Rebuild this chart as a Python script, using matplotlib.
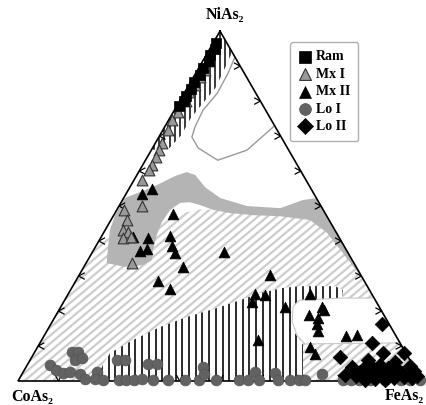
import numpy as np
import matplotlib
matplotlib.use('Agg')
import matplotlib.pyplot as plt
from matplotlib.patches import Polygon
from matplotlib.collections import LineCollection
from matplotlib.font_manager import FontProperties

# ---------------- data (ternary, % NiAs2 and % FeAs2; CoAs2 = rest) -------------
ram_ni = [96.5, 95.0, 93.2, 91.4, 89.5, 87.5, 85.5, 83.5, 81.5, 80.0, 78.5]
ram_fe = [0.8, 1.2, 1.0, 1.5, 1.0, 1.2, 0.8, 1.0, 0.8, 1.2, 0.6]

mx1_ni = [91.5, 89.0, 87.0, 84.5, 82.5, 80.0, 77.0, 74.6, 71.7, 68.0, 66.0, 64.0,
          61.7, 60.3, 57.4, 50.0, 48.9, 46.0, 43.1, 42.6, 40.9, 41.1, 33.7]
mx1_fe = [1.5, 1.8, 1.5, 1.5, 1.2, 1.5, 1.0, 0.8, 1.3, 1.7, 1.9, 2.2,
          2.3, 2.3, 2.0, 5.7, 1.8, 4.0, 4.4, 5.9, 5.6, 7.4, 11.4]

mx2_ni = [53.4, 54.9, 47.7, 41.1, 40.9, 41.4, 37.1, 37.7, 38.6, 36.6, 32.6, 28.6,
          26.3, 36.9, 30.3, 24.9, 24.6, 22.6, 21.1, 24.9, 21.1, 18.9, 18.0, 16.3,
          14.3, 11.7, 9.7, 7.7, 12.9, 13.1, 20.3]
mx2_fe = [4.0, 5.8, 14.5, 7.9, 11.8, 16.9, 11.6, 13.0, 18.8, 20.6, 24.5, 20.4,
          24.5, 32.6, 47.3, 46.3, 48.8, 46.6, 55.5, 59.9, 64.6, 62.6, 65.3, 65.9,
          67.2, 53.5, 67.4, 69.6, 74.8, 77.3, 65.6]

lo1_ni = [4.6, 3.1, 2.3, 8.3, 8.3, 6.0, 6.6, 2.6, 2.0, 0.6, 2.6, 0.6, 0.3, 6.0,
          6.0, 0.3, 0.3, 0.3, 0.6, 4.9, 4.9, 0.3, 0.3, 0.3, 0.3, 4.0, 2.0, 0.3,
          0.3, 0.3, 2.6, 0.3, 2.3, 0.3, 0.3, 0.3, 0.3, 2.0, 0.3, 0.3, 0.3, 0.3,
          0.3, 0.3, 0.3, 0.3]
lo1_fe = [5.6, 7.8, 10.0, 9.2, 10.7, 11.1, 12.5, 11.6, 14.3, 16.3, 18.3, 18.8,
          20.8, 21.5, 23.5, 24.8, 26.7, 28.5, 30.4, 29.7, 32.0, 33.2, 36.9, 41.3,
          44.6, 43.8, 45.0, 48.8, 54.5, 56.7, 57.4, 59.4, 62.5, 64.1, 67.3, 69.3,
          71.0, 74.2, 80.2, 82.2, 84.2, 87.1, 90.8, 94.6, 97.0, 99.4]

lo2_ni = [16.3, 10.9, 8.0, 8.0, 6.9, 4.0, 3.4, 4.0, 4.6, 3.7, 3.1, 4.3, 2.9, 1.4,
          1.4, 1.1, 1.7, 1.4, 0.9, 1.1, 0.9, 2.6, 2.6, 2.6, 2.3, 2.3, 0.6, 0.3,
          0.3, 1.7, 5.4, 6.0]
lo2_fe = [81.9, 82.2, 86.3, 91.5, 76.3, 80.7, 83.7, 85.6, 87.3, 89.7, 92.5, 94.9,
          96.6, 98.0, 83.0, 85.6, 87.8, 90.4, 92.6, 95.0, 97.1, 83.4, 85.8, 88.6,
          91.4, 93.9, 88.1, 90.7, 85.8, 80.1, 90.6, 83.6]

# fields (ternary boundaries, % NiAs2, % FeAs2)
top_hatch_ni = [100, 94.0, 89.4, 83.7, 79.1, 75.1, 70.3, 66.6, 66.0]
top_hatch_fe = [0, 6.0, 6.5, 7.0, 6.0, 5.2, 5.3, 4.2, 0]

loop_ni = [92.6, 88.0, 82.3, 77.4, 72.6, 69.7, 66.6, 63.1, 66.0, 72.9]
loop_fe = [7.4, 8.0, 8.2, 7.1, 7.5, 8.2, 11.3, 17.9, 23.7, 27.0]

gray_ni = [52.3, 54.0, 56.0, 58.6, 59.7, 58.9, 55.4, 52.3, 50.0, 49.4, 51.7, 52.3,
           28.9, 36.6, 42.3, 46.0, 47.1, 47.4, 48.0, 48.9, 50.3, 51.1, 50.9, 48.9,
           45.4, 41.7, 37.4, 34.6, 33.1, 32.6, 33.7, 38.9, 43.1, 47.4]
gray_fe = [0.3, 3.2, 6.4, 9.6, 11.9, 14.4, 18.6, 23.9, 31.7, 40.2, 44.6, 47.7,
           71.1, 62.1, 55.4, 49.3, 41.3, 34.5, 28.5, 23.9, 19.9, 17.0, 14.7, 13.2,
           12.9, 13.5, 14.7, 15.9, 14.3, 10.2, 5.1, 2.9, 1.2, 0.3]

diag_ni = [40, 42, 47, 49, 49, 48, 48, 0, 0]
diag_fe = [0, 5, 14, 20, 30, 40, 52, 100, 0]

vert_ni = [0, 0, 10.3, 13.7, 18.0, 22.3, 23.7, 26.0, 27.1, 27.1, 26.6, 25.1, 23.1,
           20.9, 18.3, 15.4, 11.7, 8.0, 4.6]
vert_fe = [19.3, 70.5, 65.4, 61.7, 58.8, 57.7, 68.3, 67.4, 64.9, 56.2, 52.3, 47.3,
           43.4, 38.9, 32.7, 27.4, 22.6, 18.8, 18.7]

white_ni = [21.4, 23.1, 23.7, 23.7, 10.9, 10.6, 12.9, 16.9]
white_fe = [57.4, 58.2, 68.5, 76.3, 89.1, 65.7, 62.7, 59.4]

corner_labels = ['NiAs\u2082', 'CoAs\u2082', 'FeAs\u2082']
series_labels = ['Ram', 'Mx I', 'Mx II', 'Lo I', 'Lo II']
tick_fracs = [0.1, 0.2, 0.3, 0.4, 0.5, 0.6, 0.7, 0.8, 0.9]

# ---------------------------------------------------------------------------
S3 = np.sqrt(3) / 2


def tern(ni, fe):
    ni = np.asarray(ni, float) / 100.0
    fe = np.asarray(fe, float) / 100.0
    return fe + ni / 2.0, ni * S3


W, H = 426, 405
fig = plt.figure(figsize=(W / 100, H / 100), dpi=100)
ax = fig.add_axes([0, 0, 1, 1])
ax.set_xlim(-18 / 404, 408 / 404)
ax.set_ylim(-24 / 404, 381 / 404)
ax.set_aspect('equal')
ax.axis('off')


def poly(ni, fe, **kw):
    x, y = tern(ni, fe)
    p = Polygon(np.column_stack([x, y]), closed=True, **kw)
    ax.add_patch(p)
    return p


def hatch(patch, angle, spacing, color, lw, z):
    th = np.deg2rad(angle)
    d = np.array([np.cos(th), np.sin(th)])
    n = np.array([-np.sin(th), np.cos(th)])
    segs = []
    for o in np.arange(-1.6, 1.6, spacing):
        c = n * o + np.array([0.5, 0.4])
        segs.append([c - 2 * d, c + 2 * d])
    lc = LineCollection(segs, colors=color, linewidths=lw, zorder=z)
    ax.add_collection(lc)
    lc.set_clip_path(patch)


# diagonal hatched field
p_diag = poly(diag_ni, diag_fe, facecolor='white', edgecolor='none', zorder=1)
hatch(p_diag, 40, 0.015, '#cdcdcd', 1.6, 1.1)

# gray field
poly(gray_ni, gray_fe, facecolor='#b4b4b4', edgecolor='none', zorder=2)

# bottom vertical hatched field
p_vert = poly(vert_ni, vert_fe, facecolor='white', edgecolor='none', zorder=3)
hatch(p_vert, 90, 0.0166, '#1a1a1a', 1.3, 3.1)

# white field bottom right
poly(white_ni, white_fe, facecolor='white', edgecolor='#c8c8c8', lw=0.8, zorder=3.5)

# top vertical hatched field
p_top = poly(top_hatch_ni, top_hatch_fe, facecolor='white', edgecolor='none', zorder=3)
hatch(p_top, 90, 0.0125, '#1a1a1a', 1.2, 3.1)

# outline of upper field
lx, ly = tern(loop_ni, loop_fe)
ax.plot(lx, ly, color='#9a9a9a', lw=1.0, zorder=4)

# triangle frame
fx, fy = tern([100, 0, 0, 100], [0, 0, 100, 0])
ax.plot(fx, fy, color='black', lw=1.2, zorder=5, solid_joinstyle='miter')

# chevron ticks
L = 7 / 404
segs = []
for t in tick_fracs:
    for (px, py), ang in [((t / 2, t * S3), 0), ((1 - t / 2, t * S3), 180), ((t, 0), 90)]:
        for da in (-28, 28):
            a = np.deg2rad(ang + da)
            segs.append([(px, py), (px + L * np.cos(a), py + L * np.sin(a))])
ax.add_collection(LineCollection(segs, colors='black', linewidths=0.9, zorder=5))

# markers
x, y = tern(lo1_ni, lo1_fe)
h_lo1 = ax.scatter(x, y, s=60, marker='o', c='#626262', edgecolors='#555555',
                   linewidths=0.5, zorder=6, label=series_labels[3])
x, y = tern(lo2_ni, lo2_fe)
h_lo2 = ax.scatter(x, y, s=55, marker='D', c='black', edgecolors='black',
                   linewidths=0.5, zorder=7, label=series_labels[4])
x, y = tern(mx2_ni, mx2_fe)
h_mx2 = ax.scatter(x, y, s=60, marker='^', c='black', edgecolors='black',
                   linewidths=0.5, zorder=7, label=series_labels[2])
x, y = tern(mx1_ni, mx1_fe)
h_mx1 = ax.scatter(x, y, s=60, marker='^', c='#999999', edgecolors='#333333',
                   linewidths=0.8, zorder=8, label=series_labels[1])
x, y = tern(ram_ni, ram_fe)
h_ram = ax.scatter(x, y, s=55, marker='s', c='black', edgecolors='black',
                   linewidths=0.5, zorder=9, label=series_labels[0])

serif = ['Liberation Serif', 'DejaVu Serif']
fp = FontProperties(family=serif, weight='bold', size=10)
leg = ax.legend(handles=[h_ram, h_mx1, h_mx2, h_lo1, h_lo2],
                loc='upper left', bbox_to_anchor=(290 / W, 1 - 42 / H),
                prop=fp, frameon=True, fancybox=True, framealpha=1,
                edgecolor='#b0b0b0', labelspacing=0.32, handletextpad=0.25,
                handlelength=1.0, borderpad=0.6, borderaxespad=0, scatterpoints=1,
                markerscale=1.1)
leg.set_zorder(10)

tfp = dict(family=serif, weight='bold', size=11.5)
fig.text(225 / W, 1 - 15 / H, corner_labels[0], ha='center', va='center', **tfp)
fig.text(32 / W, 1 - 397 / H, corner_labels[1], ha='center', va='center', **tfp)
fig.text(424 / W, 1 - 396 / H, corner_labels[2], ha='right', va='center', **tfp)

fig.savefig('out.png', dpi=100)
